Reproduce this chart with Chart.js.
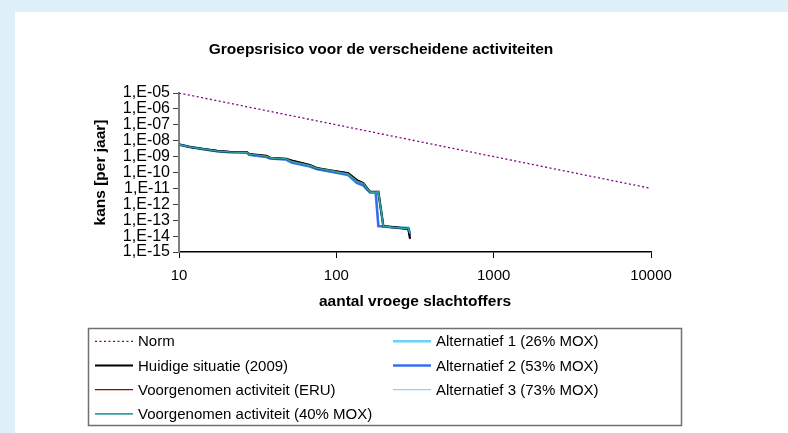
<!DOCTYPE html>
<html>
<head>
<meta charset="utf-8">
<script src="https://cdn.jsdelivr.net/npm/chart.js@4.4.1/dist/chart.umd.min.js"></script>
<style>
  html, body { margin: 0; padding: 0; }
  body { width: 788px; height: 433px; background: #dff0fa; position: relative; overflow: hidden; }
  #panel { position: absolute; left: 15px; top: 12px; right: 0; bottom: 0; background: #fff; }
  #grChart { position: absolute; left: 0; top: 0; }
</style>
</head>
<body>
<div id="panel"></div>
<canvas id="grChart" width="788" height="433"></canvas>
<script>
// texts
const chartTitle = 'Groepsrisico voor de verscheidene activiteiten';
const xTitle = 'aantal vroege slachtoffers';
const yTitle = 'kans [per jaar]';

// axis ticks
const xTickValues = [10, 100, 1000, 10000];
const xTickLabels = ['10', '100', '1000', '10000'];
const yTickValues = [1e-15, 1e-14, 1e-13, 1e-12, 1e-11, 1e-10, 1e-9, 1e-8, 1e-7, 1e-6, 1e-5];
const yTickLabels = ['1,E-15', '1,E-14', '1,E-13', '1,E-12', '1,E-11', '1,E-10', '1,E-09', '1,E-08', '1,E-07', '1,E-06', '1,E-05'];

// norm line
const normN = [10, 10000];
const normKans = [1e-5, 1e-11];

// number of early victims (x) shared by the activity curves
const slachtoffers = [10, 11.7, 14.3, 17.4, 21, 27, 28, 36, 38, 48, 52, 68, 75, 91, 119, 135, 149, 156, 164, 178, 185, 199, 236, 287, 294];

// probability per year for each activity
const kansHuidig = [5.8e-9, 4.0e-9, 3.0e-9, 2.3e-9, 1.95e-9, 1.9e-9, 1.45e-9, 1.1e-9, 8.4e-10, 7.3e-10, 5.6e-10, 2.9e-10, 1.9e-10, 1.35e-10, 9.0e-11, 3.3e-11, 2.1e-11, 1.1e-11, 6.0e-12, 6.0e-12, 6.0e-12, 4.1e-14, 3.5e-14, 2.8e-14, 7.0e-15];
const kansERU = [5.7e-9, 4.0e-9, 3.0e-9, 2.3e-9, 2.0e-9, 1.9e-9, 1.45e-9, 1.1e-9, 8.5e-10, 7.3e-10, 5.8e-10, 2.9e-10, 1.95e-10, 1.4e-10, 9.5e-11, 3.4e-11, 2.2e-11, 1.15e-11, 6.1e-12, 6.1e-12, 6.1e-12, 4.2e-14, 3.6e-14, 2.9e-14, 6.5e-15];
const kansMOX40 = [5.7e-9, 4.0e-9, 3.0e-9, 2.25e-9, 1.95e-9, 1.86e-9, 1.4e-9, 1.05e-9, 8.2e-10, 7.1e-10, 4.9e-10, 2.7e-10, 1.85e-10, 1.3e-10, 8.0e-11, 2.8e-11, 2.0e-11, 1.06e-11, 5.9e-12, 5.9e-12, 6.0e-12, 4.1e-14, 3.4e-14, 3.0e-14, 1.4e-14];
const kansAlt1 = [5.8e-9, 4.1e-9, 3.0e-9, 2.25e-9, 1.95e-9, 1.85e-9, 1.35e-9, 1.0e-9, 7.9e-10, 6.9e-10, 4.6e-10, 2.6e-10, 1.75e-10, 1.25e-10, 7.5e-11, 2.6e-11, 1.8e-11, 1.0e-11, 5.8e-12, 5.8e-12, 5.9e-12, 4.3e-14, 3.6e-14, 3.4e-14, 1.6e-14];
const kansAlt2 = [5.7e-9, 4.0e-9, 2.9e-9, 2.2e-9, 1.9e-9, 1.8e-9, 1.3e-9, 9.5e-10, 7.5e-10, 6.5e-10, 4.3e-10, 2.4e-10, 1.65e-10, 1.15e-10, 7.0e-11, 2.2e-11, 1.5e-11, 9.0e-12, 5.5e-12, 5.5e-12, 4.3e-14, 4.0e-14, 3.4e-14, 3.0e-14, 1.2e-14];
const kansAlt3 = [5.7e-9, 4.0e-9, 3.0e-9, 2.25e-9, 1.95e-9, 1.85e-9, 1.38e-9, 1.03e-9, 8.0e-10, 7.0e-10, 4.7e-10, 2.6e-10, 1.8e-10, 1.28e-10, 7.8e-11, 2.7e-11, 1.9e-11, 1.03e-11, 5.8e-12, 5.8e-12, 5.9e-12, 4.2e-14, 3.5e-14, 3.2e-14, 1.3e-14];

const toPoints = (xs, ys) => xs.map((x, i) => ({ x: x, y: ys[i] }));

Chart.defaults.font.family = "'Liberation Sans', Arial, sans-serif";
Chart.defaults.color = '#000';

// title + legend box drawn below the axes
const decorPlugin = {
    id: 'decor',
    afterDraw(chart) {
        const ctx = chart.ctx;
        ctx.save();
        ctx.fillStyle = '#000';
        ctx.textAlign = 'center';
        ctx.textBaseline = 'alphabetic';
        ctx.font = "bold 15.5px 'Liberation Sans', Arial, sans-serif";
        ctx.fillText(chartTitle, 381, 54);

        // legend frame
        ctx.strokeStyle = '#707070';
        ctx.lineWidth = 1.5;
        ctx.strokeRect(88.5, 328.5, 593, 97);

        ctx.font = "15px 'Liberation Sans', Arial, sans-serif";
        ctx.textAlign = 'left';
        chart.data.datasets.forEach((ds, i) => {
            const col = i < 4 ? 0 : 1;
            const row = i < 4 ? i : i - 4;
            const x0 = col ? 393 : 95;
            const y = 341.3 + row * 24.2;
            ctx.beginPath();
            ctx.strokeStyle = ds.borderColor;
            ctx.lineWidth = ds.borderWidth;
            ctx.setLineDash(ds.borderDash || []);
            ctx.moveTo(x0, y);
            ctx.lineTo(x0 + 38, y);
            ctx.stroke();
            ctx.setLineDash([]);
            ctx.fillStyle = '#000';
            ctx.fillText(ds.label, x0 + 43, y + 5);
        });
        ctx.restore();
    }
};

const ctx = document.getElementById('grChart').getContext('2d');
const grChart = new Chart(ctx, {
    type: 'scatter',
    data: {
        datasets: [
            { label: 'Norm', data: toPoints(normN, normKans), borderColor: '#800080', borderWidth: 1.3, borderDash: [2, 2.5], order: 0 },
            { label: 'Huidige situatie (2009)', data: toPoints(slachtoffers, kansHuidig), borderColor: '#000000', borderWidth: 2.2, order: 2 },
            { label: 'Voorgenomen activiteit (ERU)', data: toPoints(slachtoffers, kansERU), borderColor: '#a00000', borderWidth: 1.3, order: 3 },
            { label: 'Voorgenomen activiteit (40% MOX)', data: toPoints(slachtoffers, kansMOX40), borderColor: '#33a0a0', borderWidth: 1.7, order: 1 },
            { label: 'Alternatief 1 (26% MOX)', data: toPoints(slachtoffers, kansAlt1), borderColor: '#66d4f5', borderWidth: 2.5, order: 6 },
            { label: 'Alternatief 2 (53% MOX)', data: toPoints(slachtoffers, kansAlt2), borderColor: '#3a6cf0', borderWidth: 2.6, order: 4 },
            { label: 'Alternatief 3 (73% MOX)', data: toPoints(slachtoffers, kansAlt3), borderColor: '#99ccff', borderWidth: 1.2, order: 5 }
        ]
    },
    options: {
        responsive: false,
        animation: false,
        devicePixelRatio: 1,
        showLine: true,
        elements: {
            point: { radius: 0, hoverRadius: 0 },
            line: { tension: 0, fill: false }
        },
        layout: {
            padding: { top: 93, left: 87, right: 137, bottom: 118 }
        },
        scales: {
            x: {
                type: 'logarithmic',
                min: 10,
                max: 10000,
                afterBuildTicks: (scale) => {
                    scale.ticks = xTickValues.map(v => ({ value: v }));
                },
                afterFit: (scale) => { scale.height = 63; },
                ticks: {
                    autoSkip: false,
                    maxRotation: 0,
                    padding: 9,
                    font: { size: 15 },
                    callback: (value) => xTickLabels[xTickValues.indexOf(value)]
                },
                grid: {
                    drawOnChartArea: false,
                    drawTicks: true,
                    tickLength: 6,
                    color: '#000'
                },
                border: { color: '#000', width: 1.5 },
                title: {
                    display: true,
                    text: xTitle,
                    font: { size: 15.5, weight: 'bold' },
                    padding: { top: 0, bottom: 4 }
                }
            },
            y: {
                type: 'logarithmic',
                min: 1e-15,
                max: 1e-5,
                afterBuildTicks: (scale) => {
                    scale.ticks = yTickValues.map(v => ({ value: v }));
                },
                afterFit: (scale) => { scale.width = 92; },
                ticks: {
                    autoSkip: false,
                    padding: 3,
                    font: { size: 16 },
                    callback: (value) => yTickLabels[Math.round(Math.log10(value)) + 15]
                },
                grid: {
                    drawOnChartArea: false,
                    drawTicks: true,
                    tickLength: 6,
                    color: '#404040'
                },
                border: { color: '#808080', width: 2 },
                title: {
                    display: true,
                    text: yTitle,
                    font: { size: 15.5, weight: 'bold' },
                    padding: { top: 4, bottom: 0 }
                }
            }
        },
        plugins: {
            legend: { display: false },
            title: { display: false },
            tooltip: { enabled: false }
        }
    },
    plugins: [decorPlugin]
});
</script>
</body>
</html>
